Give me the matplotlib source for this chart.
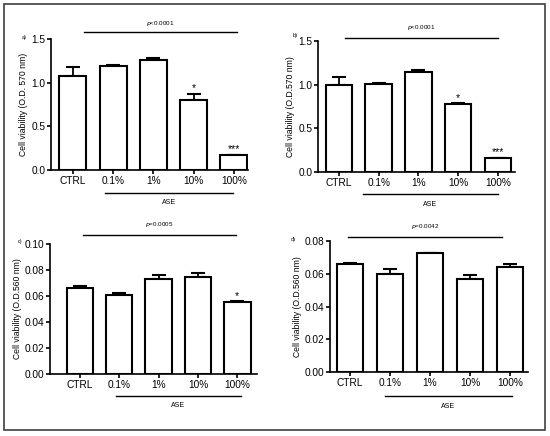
import numpy as np
import matplotlib
matplotlib.use("Agg")
import matplotlib.pyplot as plt
from matplotlib.patches import Rectangle

plt.rcParams['font.family'] = ['Liberation Sans', 'DejaVu Sans']

groups = ['CTRL', '0.1%', '1%', '10%', '100%']

# panel values (mean, upper error)
a_vals = [1.08, 1.19, 1.26, 0.80, 0.17]
a_err = [0.10, 0.01, 0.02, 0.07, 0.005]
a_stars = ['', '', '', '*', '***']

b_vals = [1.00, 1.01, 1.14, 0.78, 0.16]
b_err = [0.09, 0.01, 0.03, 0.005, 0.005]
b_stars = ['', '', '', '*', '***']

c_vals = [0.0665, 0.061, 0.073, 0.075, 0.0555]
c_err = [0.001, 0.001, 0.003, 0.0025, 0.0004]
c_stars = ['', '', '', '', '*']

d_vals = [0.066, 0.060, 0.0725, 0.057, 0.064]
d_err = [0.0005, 0.003, 0.0003, 0.0025, 0.002]
d_stars = ['', '', '', '', '']

W, H = 550, 436
fig = plt.figure(figsize=(W / 100, H / 100), dpi=100)


def px_axes(left, top, right, bottom):
    return fig.add_axes([left / W, (H - bottom) / H, (right - left) / W, (bottom - top) / H])


def panel(ax, vals, err, stars, ymax, yticks, yfmt, ylabel, letter, ptext,
          xlim, sig, ase):
    x = np.arange(len(groups))
    ax.bar(x, vals, width=0.67, color='white', edgecolor='black', linewidth=1.5, zorder=2)
    ax.errorbar(x, vals, yerr=[np.zeros(len(err)), err], fmt='none', ecolor='black',
                elinewidth=1.3, capsize=4.8, capthick=1.5, zorder=1)
    for xi, v, e, s in zip(x, vals, err, stars):
        if s:
            ax.text(xi, v + e + ymax * 0.005, s, ha='center', va='bottom', fontsize=7.5)
    ax.set_xlim(*xlim)
    ax.set_ylim(0, ymax)
    ax.set_yticks(yticks)
    ax.set_yticklabels([yfmt.format(t) for t in yticks], fontsize=7.3)
    ax.set_xticks(x)
    ax.set_xticklabels(groups, fontsize=7.3)
    ax.set_ylabel(ylabel, fontsize=6.2, labelpad=2)
    for side in ['top', 'right']:
        ax.spines[side].set_visible(False)
    for side in ['left', 'bottom']:
        ax.spines[side].set_linewidth(1.2)
    ax.tick_params(direction='out', length=3, width=1.2, pad=1.2)
    tr = ax.get_xaxis_transform()
    # significance bar with p value
    ax.plot([sig[0], sig[1]], [sig[2], sig[2]], color='black', lw=1, transform=tr, clip_on=False)
    ax.text((sig[0] + sig[1]) / 2, sig[3], ptext, ha='center', va='center', fontsize=4.5,
            transform=tr)
    # ASE bracket line
    ax.plot([ase[0], ase[1]], [ase[2], ase[2]], color='black', lw=1, transform=tr, clip_on=False)
    ax.text((ase[0] + ase[1]) / 2, ase[3], 'ASE', ha='center', va='center', fontsize=5,
            transform=tr)
    ax.text(letter[1], letter[2], letter[0], ha='center', va='center', fontsize=4,
            transform=ax.transAxes)


ax_a = px_axes(51, 39, 248, 170)
panel(ax_a, a_vals, a_err, a_stars, 1.5, [0.0, 0.5, 1.0, 1.5], '{:.1f}',
      'Cell viability (O.D. 570 nm)', ('a)', -0.135, 1.012), r'$p$<0.0001',
      (-0.54, 4.35), (0.27, 4.07, 1.053, 1.12), (0.81, 3.98, -0.176, -0.25))

ax_b = px_axes(318, 41, 515, 172)
panel(ax_b, b_vals, b_err, b_stars, 1.5, [0.0, 0.5, 1.0, 1.5], '{:.1f}',
      'Cell viability (O.D.570 nm)', ('b)', -0.115, 1.04), r'$p$<0.0001',
      (-0.525, 4.43), (0.15, 4.0, 1.023, 1.10), (0.6, 4.0, -0.168, -0.245))

ax_c = px_axes(50, 244, 257, 374)
panel(ax_c, c_vals, c_err, c_stars, 0.10, [0.0, 0.02, 0.04, 0.06, 0.08, 0.10], '{:.2f}',
      'Cell viability (O.D.560 nm)', ('c)', -0.145, 1.02), r'$p$=0.0005',
      (-0.76, 4.5), (0.08, 3.97, 1.07, 1.15), (0.91, 4.1, -0.17, -0.24))

ax_d = px_axes(330, 241, 528, 372)
panel(ax_d, d_vals, d_err, d_stars, 0.08, [0.0, 0.02, 0.04, 0.06, 0.08], '{:.2f}',
      'Cell viability (O.D.560 nm)', ('d)', -0.185, 1.015), r'$p$=0.0042',
      (-0.5, 4.45), (-0.05, 3.8, 1.03, 1.107), (0.875, 4.05, -0.18, -0.26))

# outer frame round the whole figure
fig.patches.append(Rectangle((4 / W, (H - 430) / H), 541 / W, 426 / H, transform=fig.transFigure,
                             fill=False, edgecolor='#404040', linewidth=1.2))

fig.savefig('out.png', dpi=100)
